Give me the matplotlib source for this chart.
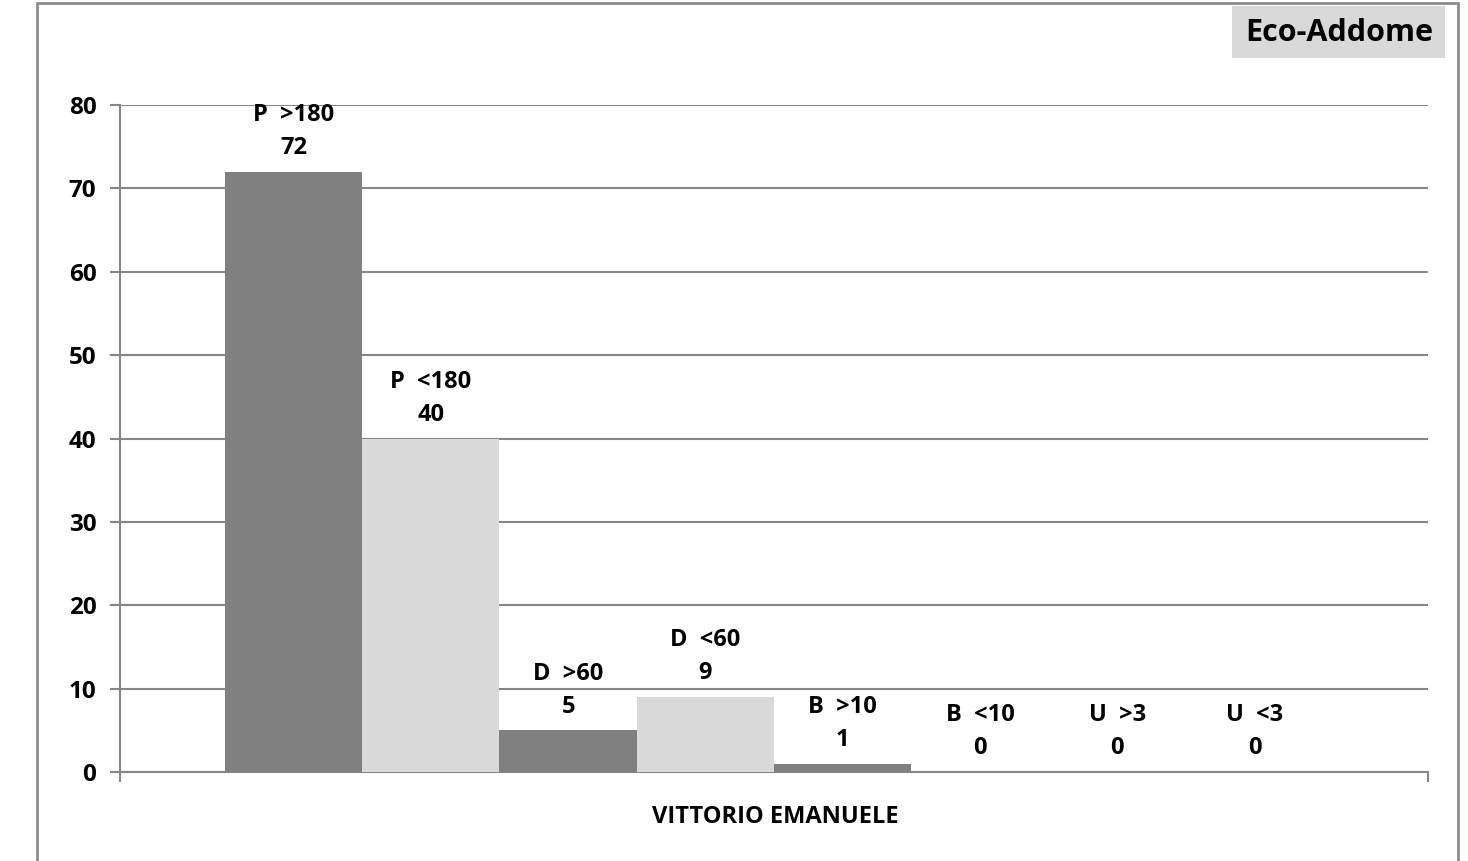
import numpy as np
import matplotlib.pyplot as plt
from matplotlib.patches import Rectangle

plt.rcParams['font.family'] = ['Open Sans', 'DejaVu Sans']
plt.rcParams['font.weight'] = 'bold'

# data
labels = ['P  >180', 'P  <180', 'D  >60', 'D  <60', 'B  >10', 'B  <10', 'U  >3', 'U  <3']
values = [72, 40, 5, 9, 1, 0, 0, 0]
colors = ['#808080', '#d9d9d9'] * 4
group_name = 'VITTORIO EMANUELE'
title = 'Eco-Addome'

W, H = 1468, 861
fig = plt.figure(figsize=(W / 100, H / 100), dpi=100)

# outer frame
fig.patches.append(Rectangle((37 / W, -0.1), (1458 - 37) / W, 1.1 - 3 / H,
                             transform=fig.transFigure, fill=False,
                             edgecolor='#8c8c8c', linewidth=2))

# title box
fig.patches.append(Rectangle((1232 / W, 1 - 58 / H), (1445 - 1232) / W, (58 - 6) / H,
                             transform=fig.transFigure, facecolor='#d9d9d9',
                             edgecolor='none'))
fig.text(1339 / W, 1 - 33 / H, title, ha='center', va='center', fontsize=22,
         fontweight='bold')

ax = fig.add_axes([120 / W, 1 - 772 / H, (1428 - 120) / W, (772 - 105) / H])
x = np.arange(len(values))
ax.bar(x, values, width=1.0, color=colors, zorder=3)

ax.set_ylim(0, 80)
ax.set_yticks(np.arange(0, 81, 10))
ax.set_xlim(-1.264, 8.264)
ax.set_xticks([-1.264, 8.264])
ax.set_xticklabels(['', ''])
ax.tick_params(axis='x', length=7, color='#868686', width=1.5)
ax.tick_params(axis='y', length=7, color='#868686', width=1.5, labelsize=17.5, pad=10)
for t in ax.get_yticklabels():
    t.set_fontweight('bold')
ax.grid(axis='y', color='#868686', linewidth=1.5, zorder=0)
for s in ['top', 'right']:
    ax.spines[s].set_visible(False)
for s in ['left', 'bottom']:
    ax.spines[s].set_color('#868686')
    ax.spines[s].set_linewidth(1.5)

for xi, v, lab in zip(x, values, labels):
    ax.annotate(lab + '\n' + str(v), (xi, v), xytext=(0, 8.5), textcoords='offset points',
                ha='center', va='bottom', fontsize=17, fontweight='bold',
                linespacing=1.5, zorder=4)

fig.text(775 / W, 1 - 817 / H, group_name, ha='center', va='center',
         fontsize=17, fontweight='bold')

fig.savefig('out.png', dpi=100)
